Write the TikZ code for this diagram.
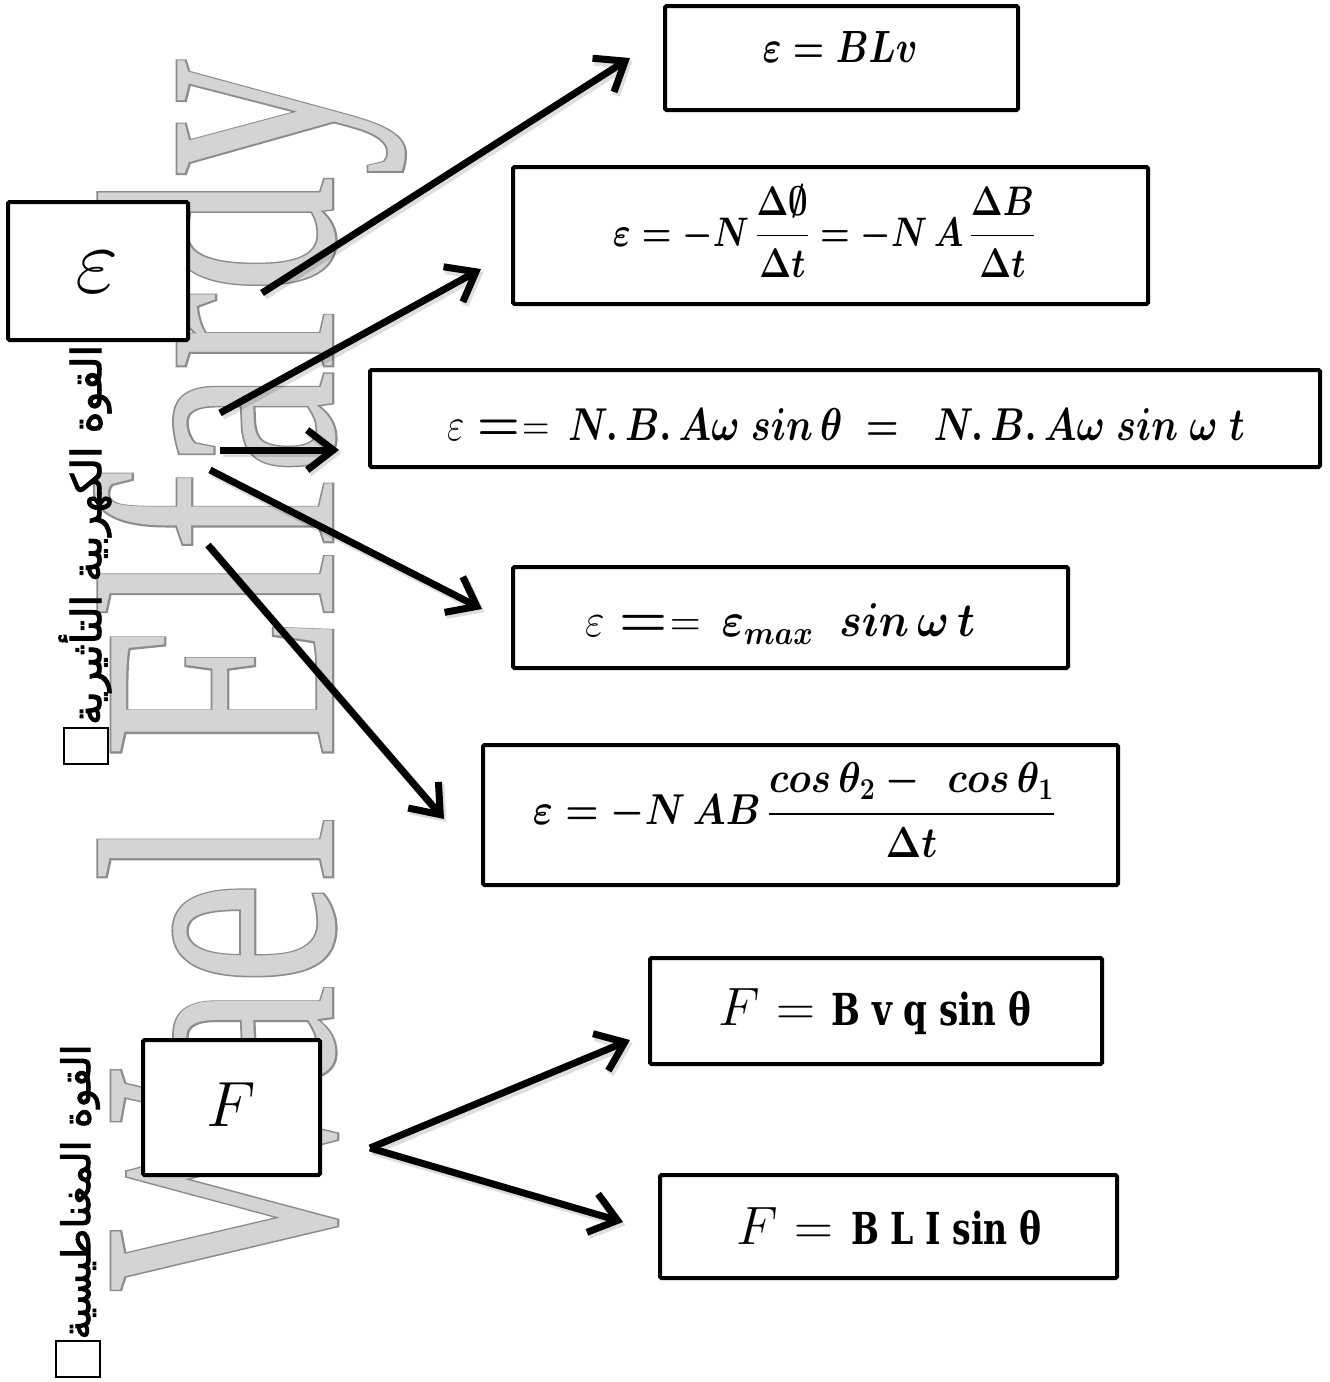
\RequirePackage{fix-cm}
\documentclass[tikz,border=0pt]{standalone}
\usepackage{amsmath}
\usepackage{graphicx}
\usepackage{fontspec}
\usetikzlibrary{arrows.meta}
\TeXXeTstate=1
\newfontfamily\arabicfont[Script=Arabic,FakeBold=2.2]{DejaVu Sans}
\newfontfamily\wmfont{Liberation Serif}
\newfontfamily\wmfontB[FakeBold=1.2]{Liberation Serif}
\newfontfamily\formfont{DejaVu Serif}
\definecolor{wmfill}{gray}{0.83}
\definecolor{wmline}{gray}{0.55}
\newcommand{\boldpart}[3]{\resizebox{#1}{#2}{\formfont\bfseries\fontsize{38}{42}\selectfont #3}}
\begin{document}
\begin{tikzpicture}[x=1pt,y=-1pt,
  box/.style={draw=black,line width=4pt,fill=white,rounded corners=1.5pt,inner sep=0pt},
  arr/.style={line width=7pt,-{Straight Barb[length=26pt,width=40pt]}},
  shd/.style={line width=8pt,draw=black,opacity=0.13,-{Straight Barb[length=26pt,width=40pt]},transform canvas={shift={(2.5pt,-3pt)}}},
  lbl/.style={inner sep=0pt,anchor=center},
  sqbox/.style={draw,line width=1.8pt,minimum width=44pt,minimum height=36pt,inner sep=0pt}]
\fill[white] (0,0) rectangle (1330,1382);
\useasboundingbox (0,0) rectangle (1330,1382);

% watermark (outline underlay + light fill)
\node[lbl,rotate=90,text=wmline] (wmo) at (250,675)
  {\resizebox*{1230pt}{310pt}{\fontsize{200}{200}\selectfont\wmfontB Wael Elfardy}};
\node[lbl,rotate=90,text=wmfill] (wm) at (250,675)
  {\resizebox*{1230pt}{310pt}{\fontsize{200}{200}\selectfont\wmfont Wael Elfardy}};

% arabic labels
\node[lbl,rotate=90] (ar1) at (85,535)
  {\resizebox{380pt}{!}{\fontsize{30}{34}\selectfont\arabicfont\beginR القوة الكهربية التأثيرية\endR}};
\node[sqbox] (sq1) at (86,746) {};
\node[lbl,rotate=90] (ar2) at (80,1192)
  {\resizebox{295pt}{!}{\fontsize{30}{34}\selectfont\arabicfont\beginR القوة المغناطيسية\endR}};
\node[sqbox] (sq2) at (78,1359) {};

% source boxes
\node[box,minimum width=180pt,minimum height=138pt] (eps) at (98,271) {};
\node[lbl] (epst) at (97,272) {\fontsize{94}{100}\selectfont$\varepsilon$};
\node[box,minimum width=177pt,minimum height=135pt] (fb) at (231.5,1107.5) {};
\node[lbl] (fbt) at (231,1105) {\fontsize{64}{70}\selectfont$F$};

% formula boxes
\node[box,minimum width=353pt,minimum height=104pt] (b1) at (841.5,58) {};
\node[lbl] (t1) at (840,47) {\resizebox{155pt}{31pt}{\fontsize{40}{44}\selectfont\boldmath$\varepsilon = BLv$}};

\node[box,minimum width=635pt,minimum height=137pt] (b2) at (830.5,235.5) {};
\node[lbl] (t2) at (824,231) {\resizebox*{422pt}{93pt}{\fontsize{40}{44}\selectfont\boldmath$\varepsilon = -N\,\dfrac{\Delta\emptyset}{\Delta t} = -N\,A\,\dfrac{\Delta B}{\Delta t}$}};

\node[box,minimum width=950pt,minimum height=97pt] (b3) at (845,418.5) {};
\node[lbl] (t3) at (846,424) {\resizebox{798pt}{32pt}{\fontsize{36}{40}\selectfont$\varepsilon$\hspace{0.35em}\scalebox{1.3}[1.15]{\boldmath$=$}\hspace{0.06em}$=$\hspace{0.5em}{\boldmath$N.\,B.\,A\omega\ sin\,\theta\ =\ \ N.\,B.\,A\omega\ sin\ \omega\ t$}}};

\node[box,minimum width=555pt,minimum height=101pt] (b4) at (790.5,617.5) {};
\node[lbl] (t4) at (780,624) {\resizebox{390pt}{33pt}{\fontsize{36}{40}\selectfont$\varepsilon$\hspace{0.35em}\scalebox{1.3}[1.15]{\boldmath$=$}\hspace{0.06em}$=$\hspace{0.5em}{\boldmath$\varepsilon_{max}\ \ sin\,\omega\,t$}}};

\node[box,minimum width=635pt,minimum height=140pt] (b5) at (800.5,815) {};
\node[lbl] (t5) at (794,810) {\resizebox*{522pt}{95pt}{\fontsize{40}{44}\selectfont\boldmath$\varepsilon = -N\,AB\,\dfrac{cos\,\theta_2 -\ \,cos\,\theta_1}{\Delta t}$}};

\node[box,minimum width=452pt,minimum height=106pt] (b6) at (876,1011) {};
\node[lbl] (t6) at (875,1012) {\fontsize{54}{60}\selectfont$F$\hspace{0.3em}$=$\hspace{16pt}\boldpart{200pt}{34pt}{B v q sin θ}};

\node[box,minimum width=457pt,minimum height=103pt] (b7) at (888.5,1226.5) {};
\node[lbl] (t7) at (889,1226) {\fontsize{54}{60}\selectfont$F$\hspace{0.3em}$=$\hspace{18pt}\boldpart{190pt}{34pt}{B L I sin θ}};

% arrow end points
\coordinate (s1) at (262,293); \coordinate (e1) at (630,58);
\coordinate (s2) at (220,413); \coordinate (e2) at (481,269);
\coordinate (s3) at (220,450); \coordinate (e3) at (339,450);
\coordinate (s4) at (210,470); \coordinate (e4) at (482,609);
\coordinate (s5) at (208,545); \coordinate (e5) at (444,819);
\coordinate (sf) at (370,1148); \coordinate (ef1) at (630,1040); \coordinate (ef2) at (623,1222);

\foreach \a/\b in {s1/e1,s2/e2,s3/e3,s4/e4,s5/e5,sf/ef1,sf/ef2}{
  \draw[shd] (\a) -- (\b);
}
\foreach \a/\b in {s1/e1,s2/e2,s3/e3,s4/e4,s5/e5,sf/ef1,sf/ef2}{
  \draw[arr] (\a) -- (\b);
}
\end{tikzpicture}
\end{document}
